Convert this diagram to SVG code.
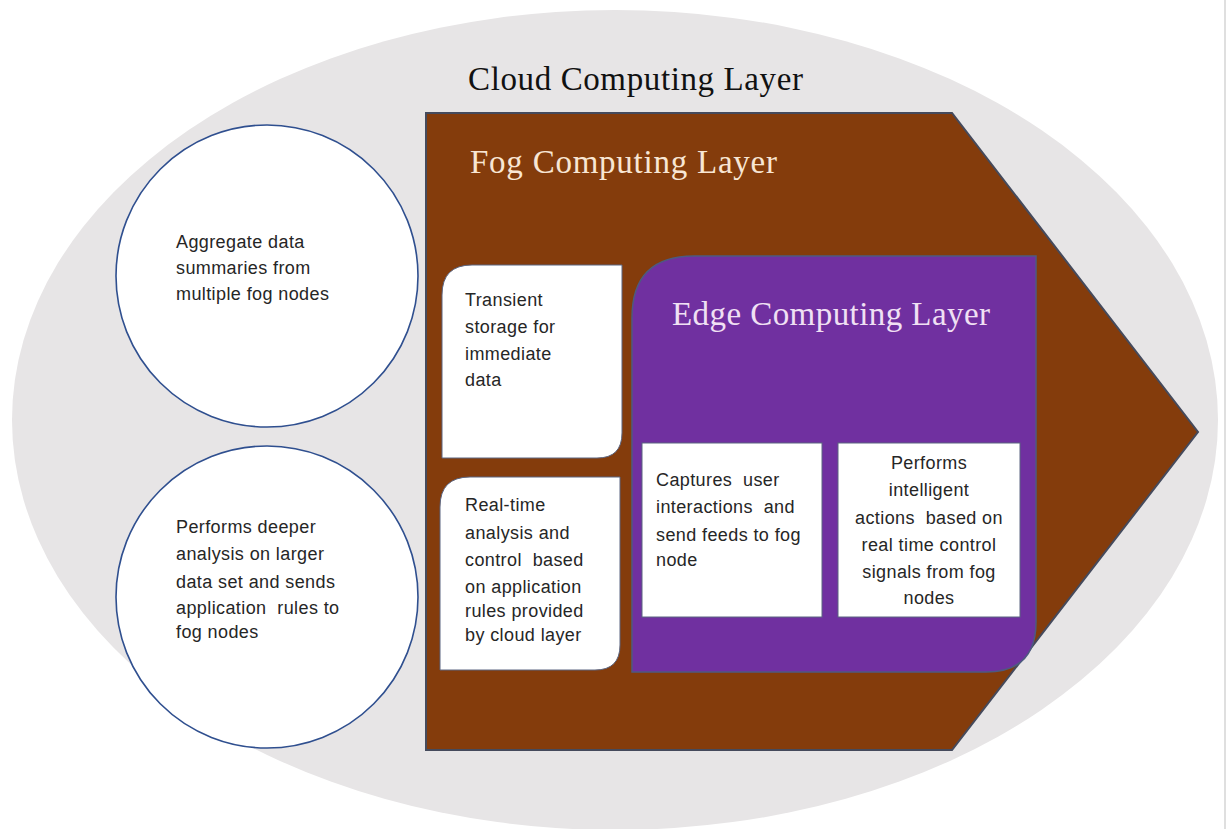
<svg xmlns="http://www.w3.org/2000/svg" width="1230" height="829" viewBox="0 0 1230 829">
  <style>
    .title { font-family: "Liberation Serif", "Times New Roman", serif; font-size: 33px; }
    .body { font-family: "Liberation Sans", Arial, sans-serif; font-size: 18px; fill: #262626; letter-spacing: 0.4px; }
    .mid { text-anchor: middle; }
    .circle { fill: #ffffff; stroke: #2f4f8f; stroke-width: 1.6; }
    .card { fill: #ffffff; stroke: #5a6480; stroke-width: 1; }
  </style>

  <rect x="0" y="0" width="1230" height="829" fill="#ffffff"/>
  <line x1="1225" y1="0" x2="1225" y2="829" stroke="#d4d4d4" stroke-width="1.5"/>

  <!-- Cloud layer: the outer ellipse -->
  <g id="cloud-layer">
    <ellipse cx="615" cy="420" rx="603" ry="410" fill="#e7e5e6"/>
    <text class="title" x="468" y="90" fill="#111111" textLength="335" lengthAdjust="spacing">Cloud Computing Layer</text>
  </g>

  <g id="cloud-aggregate">
    <circle class="circle" cx="267" cy="276" r="151"/>
    <text class="body" x="176" y="248">Aggregate data</text>
    <text class="body" x="176" y="274">summaries from</text>
    <text class="body" x="176" y="300">multiple fog nodes</text>
  </g>

  <g id="cloud-analysis">
    <circle class="circle" cx="267" cy="597" r="151"/>
    <text class="body" x="176" y="533">Performs deeper</text>
    <text class="body" x="176" y="560">analysis on larger</text>
    <text class="body" x="176" y="588">data set and sends</text>
    <text class="body" x="176" y="614">application&#160; rules to</text>
    <text class="body" x="176" y="638">fog nodes</text>
  </g>

  <!-- Fog layer: pentagon arrow -->
  <g id="fog-layer">
    <path d="M426 113 H952 L1198 432 L952 750 H426 Z" fill="#843c0c" stroke="#454a5c" stroke-width="2" stroke-linejoin="miter"/>
    <text class="title" x="470" y="173" fill="#f8e6d4" textLength="307" lengthAdjust="spacing">Fog Computing Layer</text>
  </g>

  <g id="fog-storage">
    <path class="card" d="M472 265 H622 V433 Q622 458 597 458 H442 V295 Q442 265 472 265 Z"/>
    <text class="body" x="465" y="306">Transient</text>
    <text class="body" x="465" y="333">storage for</text>
    <text class="body" x="465" y="360">immediate</text>
    <text class="body" x="465" y="386">data</text>
  </g>

  <g id="fog-realtime">
    <path class="card" d="M470 477 H620 V645 Q620 670 595 670 H440 V507 Q440 477 470 477 Z"/>
    <text class="body" x="465" y="511">Real-time</text>
    <text class="body" x="465" y="539">analysis and</text>
    <text class="body" x="465" y="566">control&#160; based</text>
    <text class="body" x="465" y="593">on application</text>
    <text class="body" x="465" y="617">rules provided</text>
    <text class="body" x="465" y="641">by cloud layer</text>
  </g>

  <!-- Edge layer -->
  <g id="edge-layer">
    <path d="M694 256 H1036 V622 Q1036 672 986 672 H632 V318 Q632 256 694 256 Z" fill="#7030a0" stroke="#4d5a80" stroke-width="1.5"/>
    <text class="title" x="672" y="325" fill="#f0e0f4" textLength="318" lengthAdjust="spacing">Edge Computing Layer</text>
  </g>

  <g id="edge-capture">
    <rect class="card" x="642" y="443" width="180" height="174"/>
    <text class="body" x="656" y="486">Captures&#160; user</text>
    <text class="body" x="656" y="513">interactions&#160; and</text>
    <text class="body" x="656" y="541">send feeds to fog</text>
    <text class="body" x="656" y="566">node</text>
  </g>

  <g id="edge-actions">
    <rect class="card" x="838" y="443" width="182" height="174"/>
    <text class="body mid" x="929" y="469">Performs</text>
    <text class="body mid" x="929" y="496">intelligent</text>
    <text class="body mid" x="929" y="524">actions&#160; based on</text>
    <text class="body mid" x="929" y="551">real time control</text>
    <text class="body mid" x="929" y="578">signals from fog</text>
    <text class="body mid" x="929" y="604">nodes</text>
  </g>

  <!-- no connectors in this figure -->
  <g id="connectors"/>
</svg>
